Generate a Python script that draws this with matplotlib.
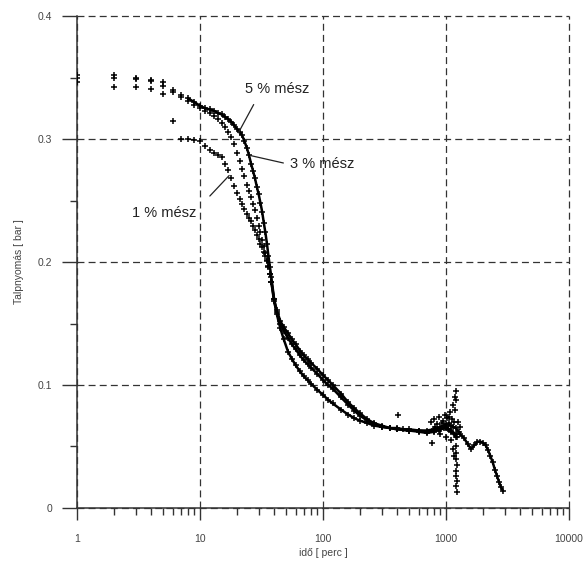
import matplotlib
matplotlib.use("Agg")
import matplotlib.pyplot as plt
from matplotlib.ticker import FixedLocator, NullFormatter

plt.rcParams['font.family'] = ['Liberation Sans', 'DejaVu Sans']
plt.rcParams['lines.scale_dashes'] = False

# ---- data (time in minutes, pressure in bar) ----
t_5 = [1, 2, 3, 4, 5, 6, 7, 8, 9, 10, 11, 12, 13, 14, 15, 16, 17, 18, 19, 20,
       21, 22, 23, 24, 25, 26, 27, 28, 29, 30, 31, 32, 33, 34, 35, 36, 37, 38,
       40, 42, 45, 48, 52, 56, 60, 65, 70, 75, 80, 90, 100, 110, 120, 140, 160,
       180, 200, 230, 260, 300, 350, 400, 450, 500, 600, 700, 800, 900, 1000,
       1100, 1200, 1300, 1400, 1500, 1600, 1700, 1800, 1900, 2000, 2100, 2200,
       2300, 2400, 2500, 2600, 2700, 2800, 2900]
p_5 = [0.352, 0.352, 0.350, 0.348, 0.346, 0.340, 0.336, 0.333, 0.330, 0.327,
       0.325, 0.324, 0.323, 0.321, 0.320, 0.318, 0.316, 0.314, 0.311, 0.308,
       0.306, 0.303, 0.298, 0.293, 0.287, 0.280, 0.274, 0.268, 0.261, 0.255,
       0.248, 0.241, 0.232, 0.224, 0.215, 0.205, 0.196, 0.188, 0.170, 0.161,
       0.152, 0.147, 0.142, 0.137, 0.133, 0.128, 0.124, 0.121, 0.118, 0.113,
       0.108, 0.104, 0.100, 0.093, 0.086, 0.081, 0.077, 0.072, 0.069, 0.067,
       0.065, 0.065, 0.064, 0.064, 0.063, 0.063, 0.064, 0.066, 0.068, 0.067,
       0.065, 0.060, 0.057, 0.052, 0.048, 0.051, 0.054, 0.054, 0.053, 0.051,
       0.047, 0.042, 0.037, 0.031, 0.026, 0.021, 0.017, 0.014]

t_3 = [1, 2, 3, 4, 5, 6, 7, 8, 9, 10, 11, 12, 13, 14, 15, 16, 17, 18, 19, 20,
       21, 22, 23, 24, 25, 26, 27, 28, 29, 30, 31, 32, 33, 34, 35, 36, 37, 38,
       40, 42, 45, 48, 52, 56, 60, 65, 70, 75, 80, 90, 100, 110, 120, 140, 160,
       180, 200, 230, 260, 300, 350, 400, 500, 600, 700, 800, 900, 1000, 1100,
       1200]
p_3 = [0.350, 0.350, 0.349, 0.347, 0.343, 0.338, 0.334, 0.331, 0.328, 0.325,
       0.323, 0.321, 0.319, 0.316, 0.313, 0.310, 0.306, 0.302, 0.296, 0.289,
       0.282, 0.276, 0.270, 0.263, 0.258, 0.253, 0.247, 0.242, 0.236, 0.229,
       0.224, 0.218, 0.213, 0.207, 0.201, 0.196, 0.190, 0.184, 0.168, 0.159,
       0.150, 0.144, 0.138, 0.133, 0.129, 0.124, 0.120, 0.117, 0.114, 0.109,
       0.104, 0.100, 0.097, 0.090, 0.084, 0.079, 0.075, 0.071, 0.068, 0.066,
       0.065, 0.064, 0.063, 0.063, 0.062, 0.063, 0.064, 0.066, 0.063, 0.060]

t_1 = [1, 2, 3, 4, 5, 6, 7, 8, 9, 10, 11, 12, 13, 14, 15, 16, 17, 18, 19, 20,
       21, 22, 23, 24, 25, 26, 27, 28, 29, 30, 31, 32, 33, 34, 35, 36, 37, 38,
       40, 42, 45, 48, 52, 56, 60, 65, 70, 75, 80, 90, 100, 110, 120, 140, 160,
       180, 200, 230, 260, 300, 350, 400, 500, 600, 700, 800, 900, 1000, 1100,
       1200]
p_1 = [0.346, 0.342, 0.342, 0.341, 0.337, 0.315, 0.300, 0.300, 0.299, 0.298,
       0.294, 0.291, 0.289, 0.287, 0.285, 0.280, 0.275, 0.268, 0.262, 0.256,
       0.251, 0.247, 0.243, 0.239, 0.236, 0.233, 0.229, 0.226, 0.222, 0.219,
       0.215, 0.212, 0.208, 0.205, 0.202, 0.197, 0.190, 0.184, 0.170, 0.158,
       0.146, 0.137, 0.127, 0.121, 0.116, 0.111, 0.107, 0.104, 0.101, 0.096,
       0.092, 0.088, 0.085, 0.080, 0.076, 0.073, 0.071, 0.069, 0.067, 0.066,
       0.065, 0.064, 0.063, 0.062, 0.061, 0.062, 0.064, 0.065, 0.062, 0.058]

# scattered readings around 1000 minutes
t_noise = [405, 750, 770, 800, 850, 880, 900, 950, 980, 1000, 1020, 1050, 1080,
           1100, 1120, 1150, 1180, 1200, 1210, 1190, 1200, 1210, 1200, 1220,
           1210, 1200, 1220, 1210, 1230, 1150, 1170, 1250, 1280, 1300,
           820, 870, 920, 960, 1040, 1060, 1130, 1160, 1240]
p_noise = [0.076, 0.070, 0.053, 0.072, 0.068, 0.074, 0.060, 0.071, 0.076, 0.058,
           0.073, 0.069, 0.078, 0.055, 0.072, 0.084, 0.090, 0.095, 0.088, 0.080,
           0.050, 0.045, 0.040, 0.035, 0.030, 0.026, 0.022, 0.018, 0.013, 0.048,
           0.042, 0.070, 0.062, 0.066,
           0.066, 0.063, 0.069, 0.065, 0.064, 0.074, 0.066, 0.070, 0.058]

x_ticks = [1, 10, 100, 1000, 10000]
x_tick_labels = ['1', '10', '100', '1000', '10000']
y_ticks = [0, 0.1, 0.2, 0.3, 0.4]
y_tick_labels = ['0', '0.1', '0.2', '0.3', '0.4']

# ---- figure ----
fig = plt.figure(figsize=(5.86, 5.62), dpi=100)
ax = fig.add_axes([0.1314, 0.0961, 0.8396, 0.8754])
ax.set_xscale('log')
ax.set_xlim(1, 10000)
ax.set_ylim(0, 0.4)

mk = dict(marker='+', markersize=4, markeredgewidth=1.1, color='black',
          linestyle='none', zorder=3)
ln = dict(color='black', linewidth=1.8, zorder=3)

for t, p, start in ((t_5, p_5, 7), (t_3, p_3, 37), (t_1, p_1, 37)):
    ax.plot(t, p, **mk)
    ax.plot(t[start:], p[start:], **ln)
ax.plot(t_noise, p_noise, **mk)

# annotations
txt = dict(fontsize=10.5, color='#222222', va='center', ha='left')
ax.text(23.2, 0.341, '5 % mész', **txt)
ax.annotate('', xy=(20.0, 0.303), xytext=(28.0, 0.330),
            arrowprops=dict(arrowstyle='-', lw=0.9, color='#222222'))
ax.text(53.9, 0.280, '3 % mész', **txt)
ax.annotate('', xy=(24.6, 0.287), xytext=(50.1, 0.280),
            arrowprops=dict(arrowstyle='-', lw=0.9, color='#222222'))
ax.text(2.8, 0.240, '1 % mész', **txt)
ax.annotate('', xy=(17.9, 0.272), xytext=(11.6, 0.252),
            arrowprops=dict(arrowstyle='-', lw=0.9, color='#222222'))

# axes styling
for s in ('top', 'right'):
    ax.spines[s].set_visible(False)
for s in ('left', 'bottom'):
    ax.spines[s].set_color('#333333')
    ax.spines[s].set_linewidth(1.1)

ax.xaxis.set_major_locator(FixedLocator(x_ticks))
ax.set_xticklabels(x_tick_labels)
ax.xaxis.set_minor_locator(FixedLocator(
    [m * d for d in (1, 10, 100, 1000) for m in range(2, 10)]))
ax.xaxis.set_minor_formatter(NullFormatter())
ax.set_yticks(y_ticks)
ax.set_yticklabels(y_tick_labels)
ax.yaxis.set_minor_locator(FixedLocator([0.05, 0.15, 0.25, 0.35]))

ax.tick_params(axis='y', which='major', direction='out', length=10.8,
               width=1.0, pad=7, labelsize=7.5, labelcolor='#444444',
               color='#333333')
ax.tick_params(axis='y', which='minor', direction='out', length=5,
               width=1.0, color='#333333')
ax.tick_params(axis='x', which='major', direction='out', length=8.6,
               width=1.0, pad=10, labelsize=7.5, labelcolor='#444444',
               color='#333333')
ax.tick_params(axis='x', which='minor', direction='out', length=5,
               width=1.0, color='#333333')

ax.grid(True, which='major', linestyle=(0, (5, 3)), color='#333333',
        linewidth=0.9)
for gl in ax.get_xgridlines() + ax.get_ygridlines():
    gl.set_clip_on(False)
ax.set_axisbelow(True)

ax.set_xlabel('idő [ perc ]', fontsize=7.5, color='#444444', labelpad=3)
ax.set_ylabel('Talpnyomás [ bar ]', fontsize=7.5, color='#444444',
              labelpad=10)

fig.savefig('out.png', dpi=100)
